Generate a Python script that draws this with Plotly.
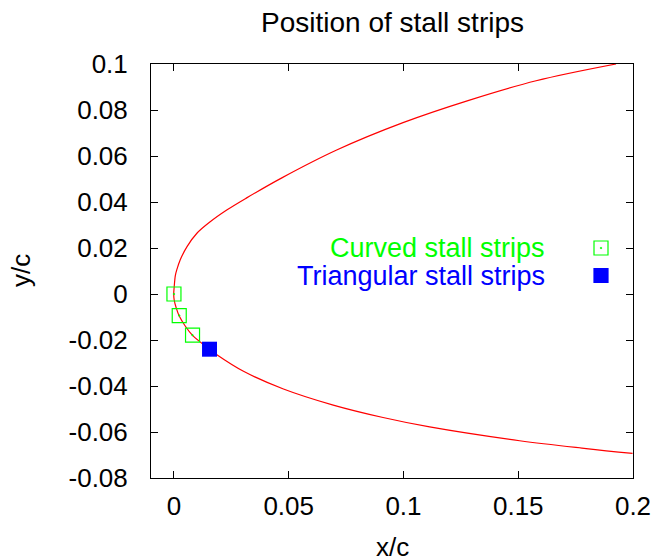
import plotly.graph_objects as go

# Airfoil leading-edge contour (x/c, y/c), upper surface from aft to nose, then lower surface
upper_x = [0.1926, 0.1578, 0.1288, 0.0998, 0.0709, 0.0470, 0.0317, 0.0230, 0.0158,
           0.0100, 0.0057, 0.0027, 0.0012, 0.0006, 0.0001]
upper_y = [0.1000, 0.0927, 0.0843, 0.0745, 0.0626, 0.0505, 0.0418, 0.0365, 0.0314,
           0.0264, 0.0206, 0.0148, 0.0104, 0.0080, 0.0030]
lower_x = [-0.0001, 0.0001, 0.0010, 0.0023, 0.0049, 0.0081, 0.0155, 0.0187,
           0.0303, 0.0477, 0.0694, 0.0911, 0.1114, 0.1506, 0.1796, 0.1998]
lower_y = [0.0000, -0.0026, -0.0061, -0.0096, -0.0139, -0.0180, -0.0240, -0.0264,
           -0.0336, -0.0413, -0.0483, -0.0537, -0.0578, -0.0638, -0.0672, -0.0693]

# Stall strip locations
curved_x = [0.0000, 0.0023, 0.0081]
curved_y = [0.0000, -0.0094, -0.0179]
triangular_x = [0.0155]
triangular_y = [-0.0240]

series_names = ["Curved stall strips", "Triangular stall strips"]
series_colors = ["#00ff00", "#0000ff"]

x_ticks = [0, 0.05, 0.1, 0.15, 0.2]
x_ticktext = ["0", "0.05", "0.1", "0.15", "0.2"]
y_ticks = [0.1, 0.08, 0.06, 0.04, 0.02, 0, -0.02, -0.04, -0.06, -0.08]
y_ticktext = ["0.1", "0.08", "0.06", "0.04", "0.02", "0", "-0.02", "-0.04", "-0.06", "-0.08"]

FONT = "Liberation Sans, Arial, sans-serif"
FS_TICK = 26
FS_TEXT = 27
FS_TITLE = 28

fig = go.Figure()

fig.add_trace(go.Scatter(
    x=upper_x + lower_x, y=upper_y + lower_y, mode="lines",
    line=dict(color="#ff0000", width=1.2, shape="spline", smoothing=1.0),
    showlegend=False, hoverinfo="skip"))

fig.add_trace(go.Scatter(
    x=curved_x, y=curved_y, mode="markers",
    marker=dict(symbol="square-open-dot", size=14, color=series_colors[0],
                line=dict(color=series_colors[0], width=1.2)),
    showlegend=False))

fig.add_trace(go.Scatter(
    x=triangular_x, y=triangular_y, mode="markers",
    marker=dict(symbol="square", size=15, color=series_colors[1], line=dict(width=0)),
    showlegend=False))

# Key: text to the left, sample symbol to the right (on a unit overlay axis)
key_text_x = 0.8216
key_sym_x = 0.9336
key_rows_y = [0.5556, 0.4891]
key_symbols = ["square-open-dot", "square"]
for name, color, ky, sym in zip(series_names, series_colors, key_rows_y, key_symbols):
    fig.add_annotation(x=key_text_x, y=ky, xref="paper", yref="paper", text=name,
                       showarrow=False, xanchor="right", yanchor="middle",
                       font=dict(family=FONT, size=FS_TEXT, color=color))
    fig.add_trace(go.Scatter(
        x=[key_sym_x], y=[ky], xaxis="x2", yaxis="y2", mode="markers",
        marker=dict(symbol=sym, size=14, color=color, line=dict(color=color, width=1.2)),
        showlegend=False, hoverinfo="skip"))

axis_common = dict(showline=True, linecolor="black", linewidth=1, mirror="ticks",
                   ticks="inside", ticklen=7, tickcolor="black", tickwidth=1,
                   showgrid=False, zeroline=False, automargin=False,
                   tickfont=dict(family=FONT, size=FS_TICK, color="black"))

fig.update_layout(
    width=653, height=560,
    margin=dict(l=151, r=20, t=64, b=82),
    paper_bgcolor="white", plot_bgcolor="white",
    showlegend=False,
    font=dict(family=FONT, size=FS_TICK, color="black"),
    xaxis=dict(range=[-0.01, 0.2], tickvals=x_ticks, ticktext=x_ticktext,
               ticklabelstandoff=5, **axis_common),
    yaxis=dict(range=[-0.08, 0.1], tickvals=y_ticks, ticktext=y_ticktext,
               ticklabelstandoff=17, **axis_common),
    xaxis2=dict(range=[0, 1], overlaying="x", visible=False, fixedrange=True),
    yaxis2=dict(range=[0, 1], overlaying="y", visible=False, fixedrange=True),
)

fig.add_annotation(x=0.5, y=1, xref="paper", yref="paper", yshift=42, text="Position of stall strips",
                   showarrow=False, xanchor="center", yanchor="middle",
                   font=dict(family=FONT, size=FS_TITLE, color="black"))
fig.add_annotation(x=0.5, y=0, xref="paper", yref="paper", yshift=-69, text="x/c",
                   showarrow=False, xanchor="center", yanchor="middle",
                   font=dict(family=FONT, size=FS_TICK, color="black"))
fig.add_annotation(x=0, y=0.5, xref="paper", yref="paper", xshift=-130, text="y/c",
                   textangle=-90, showarrow=False, xanchor="center", yanchor="middle",
                   font=dict(family=FONT, size=FS_TICK, color="black"))

fig.write_html("out.html")
